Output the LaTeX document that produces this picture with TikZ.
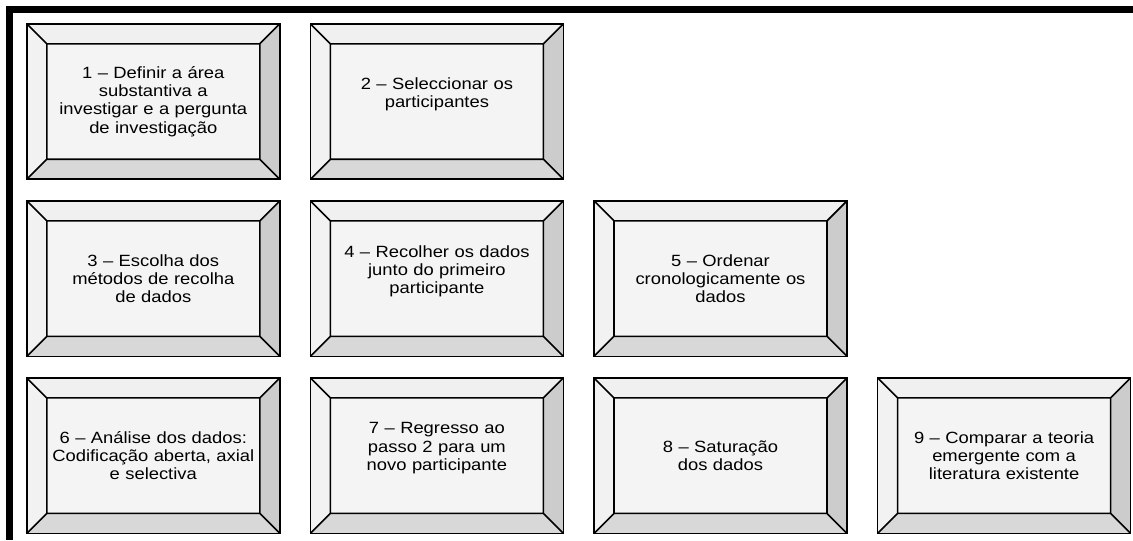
\documentclass[tikz,border=0pt]{standalone}
\usepackage{fontspec}
\setmainfont[FakeStretch=1.13]{Liberation Sans}
\usepackage{tikz}
\usetikzlibrary{shapes,arrows,positioning,calc}
\definecolor{faceclara}{HTML}{F4F4F4}
\definecolor{bevtopo}{HTML}{F0F0F0}
\definecolor{bevesq}{HTML}{F2F2F2}
\definecolor{bevdir}{HTML}{CCCCCC}
\definecolor{bevfundo}{HTML}{D8D8D8}
\newcommand{\bev}{15pt}
\tikzset{
  %Define style for bevelled boxes
  etapa/.style={
    rectangle,
    draw=black, line width=1.2pt,
    fill=faceclara,
    minimum width=189.75pt,
    minimum height=116.6pt,
    text width=170pt,
    inner sep=0pt,
    align=center,
    font=\fontsize{12.2}{13.7}\selectfont,
    path picture={
      \path (path picture bounding box.north west) coordinate (o1)
            (path picture bounding box.north east) coordinate (o2)
            (path picture bounding box.south east) coordinate (o3)
            (path picture bounding box.south west) coordinate (o4);
      \path ($(o1)+(\bev,-\bev)$) coordinate (i1)
            ($(o2)+(-\bev,-\bev)$) coordinate (i2)
            ($(o3)+(-\bev,\bev)$) coordinate (i3)
            ($(o4)+(\bev,\bev)$) coordinate (i4);
      \fill[bevtopo] (o1) -- (o2) -- (i2) -- (i1) -- cycle;
      \fill[bevesq] (o1) -- (i1) -- (i4) -- (o4) -- cycle;
      \fill[bevdir] (o2) -- (o3) -- (i3) -- (i2) -- cycle;
      \fill[bevfundo] (o4) -- (i4) -- (i3) -- (o3) -- cycle;
      \draw[line width=1.2pt] (i1) rectangle (i3)
        (o1) -- (i1) (o2) -- (i2) (o3) -- (i3) (o4) -- (i4);
    }},
  % Define frame style
  moldura/.style={
    line width=5.25pt}
}

\begin{document}
\begin{tikzpicture}[node distance=15pt and 21.75pt]
    \useasboundingbox (0,0) rectangle (849.75pt,-405pt);
    \draw[moldura] (7.125pt,-405pt) -- (7.125pt,-7.125pt) -- (849.75pt,-7.125pt);
    % first row
    \node[etapa, anchor=north west] (definir) at (19.5pt,-17.25pt)
      {1 – Definir a área\\substantiva a\\investigar e a pergunta\\de investigação};
    \node[etapa, right=of definir] (seleccionar)
      {2 – Seleccionar os\\participantes\\\mbox{}};
    % second row
    \node[etapa, below=of definir] (metodos)
      {3 – Escolha dos\\métodos de recolha\\de dados};
    \node[etapa, right=of metodos] (recolher)
      {4 – Recolher os dados\\junto do primeiro\\participante\\\mbox{}};
    \node[etapa, right=of recolher] (ordenar)
      {5 – Ordenar\\cronologicamente os\\dados};
    % third row
    \node[etapa, below=of metodos] (analise)
      {6 – Análise dos dados:\\Codificação aberta, axial\\e selectiva};
    \node[etapa, right=of analise] (regresso)
      {7 – Regresso ao\\passo 2 para um\\novo participante\\\mbox{}};
    \node[etapa, right=of regresso] (saturacao)
      {8 – Saturação\\dos dados};
    \node[etapa, right=of saturacao] (comparar)
      {9 – Comparar a teoria\\emergente com a\\literatura existente};
  \end{tikzpicture}
\end{document}
